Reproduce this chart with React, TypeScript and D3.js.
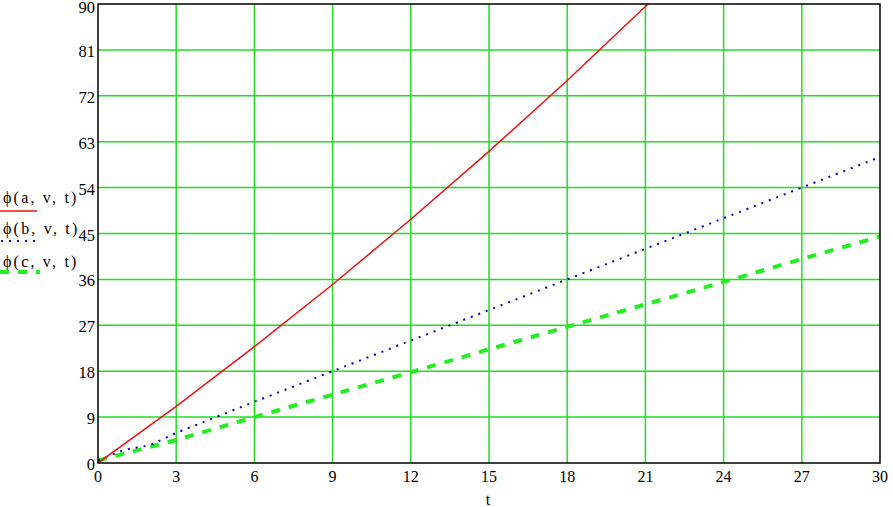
import React from "react";
import * as d3 from "d3";

const xTicks = [0, 3, 6, 9, 12, 15, 18, 21, 24, 27, 30];
const yTicks = [0, 9, 18, 27, 36, 45, 54, 63, 72, 81, 90];

const tValues = [0, 3, 6, 9, 12, 15, 18, 21, 24];
const redValues = [0, 11.1, 22.8, 35, 47.8, 61.1, 75.0, 89.5, 104.5];

const tBlue = [0, 1, 2, 3, 6, 9, 12, 15, 18, 21, 24, 27, 30];
const blueValues = [0.5, 2.6, 3.5, 5.9, 12, 18, 24, 30, 36, 42, 48, 54, 60];

const tGreen = [0, 3, 6, 9, 12, 15, 18, 21, 24, 27, 30];
const greenValues = [0.5, 4.5, 9, 13.4, 17.8, 22.3, 26.7, 31.1, 35.5, 40, 44.4];

const legendLabels = ["\u03d5(a, v, t)", "\u03d5(b, v, t)", "\u03d5(c, v, t)"];

const W = 893, H = 507;
const L = 98, R = 880, T = 4, B = 463;

export default function App() {
  const x = d3.scaleLinear().domain([0, 30]).range([L, R]);
  const y = d3.scaleLinear().domain([0, 90]).range([B, T]);
  const line = d3.line<[number, number]>().x(d => x(d[0])).y(d => y(d[1]));
  const red = line(tValues.map((t, i) => [t, redValues[i]]));
  const blue = line(tBlue.map((t, i) => [t, blueValues[i]]));
  const green = line(tGreen.map((t, i) => [t, greenValues[i]]));
  const font = "Liberation Serif, DejaVu Serif, serif";
  const grid = "#22dd22";
  return (
    <svg width={W} height={H} style={{ position: "absolute", left: 0, top: 0, background: "#fff", fontFamily: font }}>
      <defs>
        <clipPath id="plot"><rect x={L} y={T} width={R - L} height={B - T} /></clipPath>
      </defs>
      {xTicks.slice(1, -1).map(t => (
        <line key={"gx" + t} x1={x(t)} x2={x(t)} y1={T} y2={B} stroke={grid} strokeWidth={1.5} />
      ))}
      {yTicks.slice(1, -1).map(v => (
        <line key={"gy" + v} x1={L} x2={R} y1={y(v)} y2={y(v)} stroke={grid} strokeWidth={1.5} />
      ))}
      <g clipPath="url(#plot)">
        <path d={green!} fill="none" stroke="#22ee22" strokeWidth={4} strokeDasharray="9 9" />
        <path d={blue!} fill="none" stroke="#0000b0" strokeWidth={2} strokeDasharray="2 6" />
        <path d={red!} fill="none" stroke="#ee1111" strokeWidth={1.5} />
      </g>
      <rect x={L} y={T} width={R - L} height={B - T} fill="none" stroke="#000" strokeWidth={1.5} />
      {yTicks.map(v => (
        <text key={"yl" + v} x={95} y={Math.max(y(v) + 7, 12.5)} textAnchor="end" fontSize={16.5} style={{ fontFamily: font }}>{v}</text>
      ))}
      {xTicks.map(t => (
        <text key={"xl" + t} x={x(t)} y={482} textAnchor="middle" fontSize={16} style={{ fontFamily: font }}>{t}</text>
      ))}
      <text x={(L + R) / 2 - 1} y={505} textAnchor="middle" fontSize={16} style={{ fontFamily: font }}>t</text>
      {legendLabels.map((lab, i) => {
        const ly = [203, 234, 267][i];
        return (
          <text key={lab} x={3} y={ly} fontSize={16} letterSpacing={2.2} style={{ fontFamily: font }}>{lab}</text>
        );
      })}
      <line x1={0} x2={37} y1={211} y2={211} stroke="#ee1111" strokeWidth={1.5} />
      <line x1={1} x2={37} y1={241} y2={241} stroke="#0000b0" strokeWidth={2} strokeDasharray="2 6" />
      <line x1={0} x2={40} y1={272} y2={272} stroke="#22ee22" strokeWidth={4} strokeDasharray="9 9" />
    </svg>
  );
}
